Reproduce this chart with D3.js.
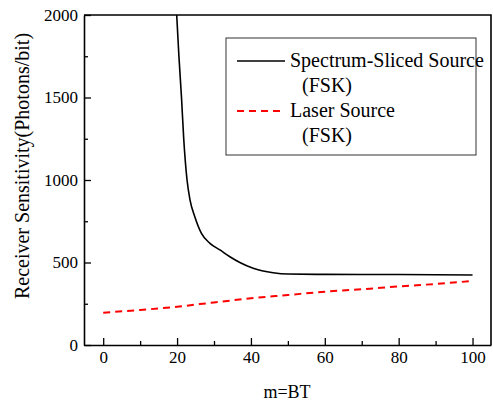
<!DOCTYPE html>
<html>
<head>
<script src="https://cdn.jsdelivr.net/npm/d3@7"></script>
</head>
<body style="margin:0">
<div id="chart"></div>
<script>
// spectrum-sliced source (FSK)
var slicedM   = [19.9, 20.5, 21.2, 21.8, 22.7, 23.5, 24.8, 26.6, 28.9, 31.6, 34.3, 37, 40.6, 46, 50, 60, 70, 80, 90, 100];
var slicedVal = [2000, 1750, 1500, 1250, 1000, 880, 778, 677, 616, 576, 535, 500, 465, 438, 430, 428, 427, 427, 426, 424];

// laser source (FSK)
var laserM   = [0, 10, 20, 30, 40, 50, 60, 70, 80, 90, 100];
var laserVal = [196, 212, 232, 258, 283, 303, 323, 338, 355, 370, 388];

var xTicks = [0, 20, 40, 60, 80, 100];
var xMinor = [10, 30, 50, 70, 90];
var yTicks = [0, 500, 1000, 1500, 2000];
var yMinor = [250, 750, 1250, 1750];

var legendLabels = [["Spectrum-Sliced Source", "(FSK)"], ["Laser Source", "(FSK)"]];

var FONT = "Liberation Serif";

var svg = d3.select("#chart").append("svg")
    .attr("width", 493)
    .attr("height", 404)
    .attr("font-family", FONT);

// plot area in page pixels
var pl = 84, pr = 491, pt = 15, pb = 345;

var x = d3.scaleLinear().domain([-5.2, 105]).range([pl, pr]);
var y = d3.scaleLinear().domain([0, 2000]).range([pb, pt]);

function serif(sel){
    sel.attr("font-family", FONT).style("font-family", FONT);
}

// frame (top and right)
svg.append("path")
    .attr("d", "M" + pl + "," + pt + "H" + pr + "V" + pb)
    .attr("fill", "none")
    .attr("stroke", "#000")
    .attr("stroke-width", 1.6);

// minor ticks
svg.append("g").attr("transform", "translate(0," + pb + ")")
    .call(d3.axisBottom(x).tickValues(xMinor).tickSize(-4).tickFormat(""))
    .call(function(g){ g.select(".domain").remove(); g.selectAll("text").remove(); })
    .selectAll("line").attr("stroke-width", 1.3);
svg.append("g").attr("transform", "translate(" + pl + ",0)")
    .call(d3.axisLeft(y).tickValues(yMinor).tickSize(-4).tickFormat(""))
    .call(function(g){ g.select(".domain").remove(); g.selectAll("text").remove(); })
    .selectAll("line").attr("stroke-width", 1.3);

// major axes
var gx = svg.append("g").attr("transform", "translate(0," + pb + ")")
    .call(d3.axisBottom(x).tickValues(xTicks).tickFormat(d3.format("d"))
        .tickSize(-7).tickSizeOuter(0).tickPadding(6));
var gy = svg.append("g").attr("transform", "translate(" + pl + ",0)")
    .call(d3.axisLeft(y).tickValues(yTicks).tickFormat(d3.format("d"))
        .tickSize(-7).tickSizeOuter(0).tickPadding(6));

[gx, gy].forEach(function(g){
    g.call(serif).attr("font-size", 17);
    g.select(".domain").attr("stroke-width", 1.6);
    g.selectAll(".tick line").attr("stroke-width", 1.3);
    g.selectAll(".tick text").call(serif).attr("font-size", 17);
});

// axis titles
svg.append("text")
    .call(serif)
    .attr("x", 287)
    .attr("y", 398)
    .attr("text-anchor", "middle")
    .attr("font-size", 18)
    .text("m=BT");

svg.append("text")
    .call(serif)
    .attr("transform", "translate(29,166) rotate(-90)")
    .attr("text-anchor", "middle")
    .attr("font-size", 20)
    .text("Receiver Sensitivity(Photons/bit)");

// lines
var line = d3.line()
    .x(function(d){ return x(d[0]); })
    .y(function(d){ return y(d[1]); })
    .curve(d3.curveMonotoneX);

svg.append("path")
    .datum(d3.zip(slicedM, slicedVal))
    .attr("d", line)
    .attr("fill", "none")
    .attr("stroke", "#000")
    .attr("stroke-width", 1.6);

svg.append("path")
    .datum(d3.zip(laserM, laserVal))
    .attr("d", line)
    .attr("fill", "none")
    .attr("stroke", "#ff0000")
    .attr("stroke-width", 2)
    .attr("stroke-dasharray", "7,5");

// legend
var legend = svg.append("g");
legend.append("rect")
    .attr("x", 226).attr("y", 38)
    .attr("width", 250).attr("height", 117)
    .attr("fill", "#fff")
    .attr("stroke", "#333")
    .attr("stroke-width", 1);

var styles = [{ color: "#000", dash: "none", w: 1.6 }, { color: "#ff0000", dash: "7,5", w: 2 }];
legendLabels.forEach(function(lbl, i){
    var ly = 61 + i * 50;
    legend.append("line")
        .attr("x1", 237).attr("x2", 285)
        .attr("y1", ly).attr("y2", ly)
        .attr("stroke", styles[i].color)
        .attr("stroke-width", styles[i].w)
        .attr("stroke-dasharray", styles[i].dash);
    legend.append("text")
        .call(serif)
        .attr("x", 290).attr("y", ly + 6)
        .attr("font-size", 20)
        .text(lbl[0]);
    legend.append("text")
        .call(serif)
        .attr("x", 302).attr("y", ly + 31)
        .attr("font-size", 20)
        .text(lbl[1]);
});
</script>
</body>
</html>
